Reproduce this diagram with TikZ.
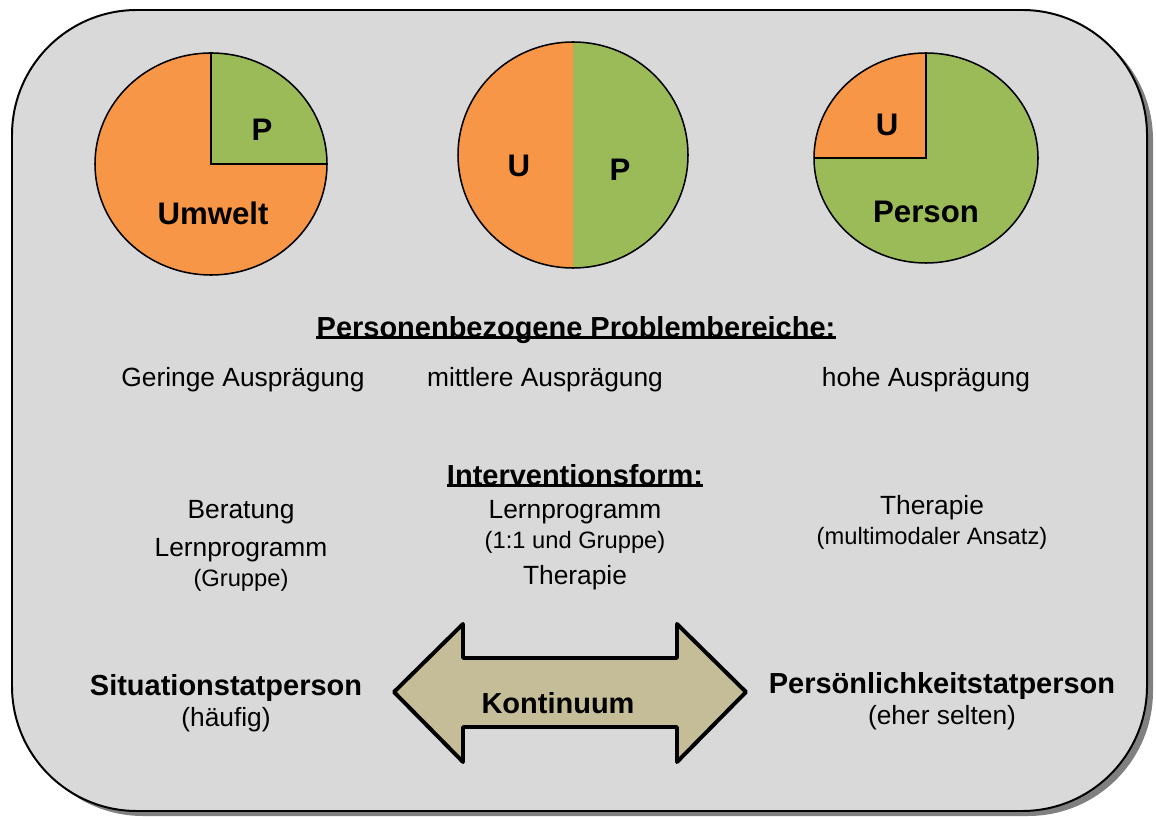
\documentclass[tikz,border=0pt]{standalone}
\usepackage{fontspec}
\setmainfont{Liberation Sans}
\definecolor{umweltorange}{HTML}{F79646}
\definecolor{persongreen}{HTML}{9BBB59}
\definecolor{kontinuumtan}{HTML}{C4BD97}
\definecolor{panelgray}{HTML}{D9D9D9}
\begin{document}
\begin{tikzpicture}[x=0.016cm,y=0.016cm,
	txt/.style={inner sep=0pt,font=\fontsize{12}{14}\selectfont},
	smalltxt/.style={inner sep=0pt,font=\fontsize{10.8}{13}\selectfont},
	headtxt/.style={inner sep=0pt,font=\fontsize{13.2}{15}\selectfont\bfseries},
	pietxt/.style={inner sep=0pt,font=\fontsize{14.2}{16}\selectfont\bfseries},
	pieline/.style={line width=0.7pt},
	underl/.style={line width=1.5pt,yshift=-2pt}]
		\useasboundingbox (0,0) rectangle (1156,816);
		
		%panel
		\fill[black!50,rounded corners=2cm] (18,0) rectangle (1153,801);
		\draw[line width=0.9pt,fill=panelgray,rounded corners=2cm] (12,5) rectangle (1147,806);
		
		%pie umwelt
		\fill[umweltorange] (211,652) ellipse [x radius=116,y radius=111];
		\fill[persongreen] (211,652) -- (327,652) arc[start angle=0,end angle=90,x radius=116,y radius=111] -- cycle;
		\draw[pieline] (211,652) ellipse [x radius=116,y radius=111];
		\draw[pieline] (327,652) -- (211,652) -- (211,763);
		\node[pietxt](pieoneP) at (262,686) {P};
		\node[pietxt](pieoneU) at (213,603) {Umwelt};
		
		%pie half
		\fill[persongreen] (573,548) arc[start angle=-90,end angle=90,x radius=115,y radius=113] -- cycle;
		\fill[umweltorange] (573,774) arc[start angle=90,end angle=270,x radius=115,y radius=113] -- cycle;
		\draw[pieline] (573,661) ellipse [x radius=115,y radius=113];
		\node[pietxt](pietwoU) at (519,650) {U};
		\node[pietxt](pietwoP) at (620,646) {P};
		
		%pie person
		\fill[persongreen] (926,658) ellipse [x radius=112,y radius=105];
		\fill[umweltorange] (926,658) -- (926,763) arc[start angle=90,end angle=180,x radius=112,y radius=105] -- cycle;
		\draw[pieline] (926,658) ellipse [x radius=112,y radius=105];
		\draw[pieline] (926,763) -- (926,658) -- (814,658);
		\node[pietxt](piethreeU) at (887,691) {U};
		\node[pietxt](piethreeP) at (926,604) {Person};
		
		%problembereiche
		\node[headtxt](problem) at (576,486) {Personenbezogene Problembereiche:};
		\draw[underl] (problem.base west) -- (problem.base east);
		\node[txt](gering) at (243,436) {Geringe Ausprägung};
		\node[txt](mittel) at (545,436) {mittlere Ausprägung};
		\node[txt](hoch) at (926,436) {hohe Ausprägung};
		
		%interventionsform
		\node[headtxt](interv) at (575,341) {Interventionsform:};
		\draw[underl] (interv.base west) -- (interv.base east);
		\node[txt](beratung) at (241,304) {Beratung};
		\node[txt](lernA) at (241,266) {Lernprogramm};
		\node[smalltxt](gruppeA) at (241,236) {(Gruppe)};
		\node[txt](lernB) at (575,304) {Lernprogramm};
		\node[smalltxt](gruppeB) at (575,274) {(1:1 und Gruppe)};
		\node[txt](therapieB) at (575,238) {Therapie};
		\node[txt](therapieC) at (932,308) {Therapie};
		\node[smalltxt](multimodal) at (932,278) {(multimodaler Ansatz)};
		
		%kontinuum
		\draw[line width=1.8pt,fill=kontinuumtan,line join=round] (394,124) -- (463,192) -- (463,158) -- (677,158) -- (677,192) -- (746,124) -- (677,54) -- (677,89) -- (463,89) -- (463,54) -- cycle;
		\node[headtxt](kontinuum) at (558,113) {Kontinuum};
		\node[headtxt](situation) at (226,128) {Situationstatperson};
		\node[txt](haeufig) at (226,96) {(häufig)};
		\node[headtxt](persoenlich) at (942,130) {Persönlichkeitstatperson};
		\node[txt](selten) at (942,98) {(eher selten)};
\end{tikzpicture}
\end{document}
